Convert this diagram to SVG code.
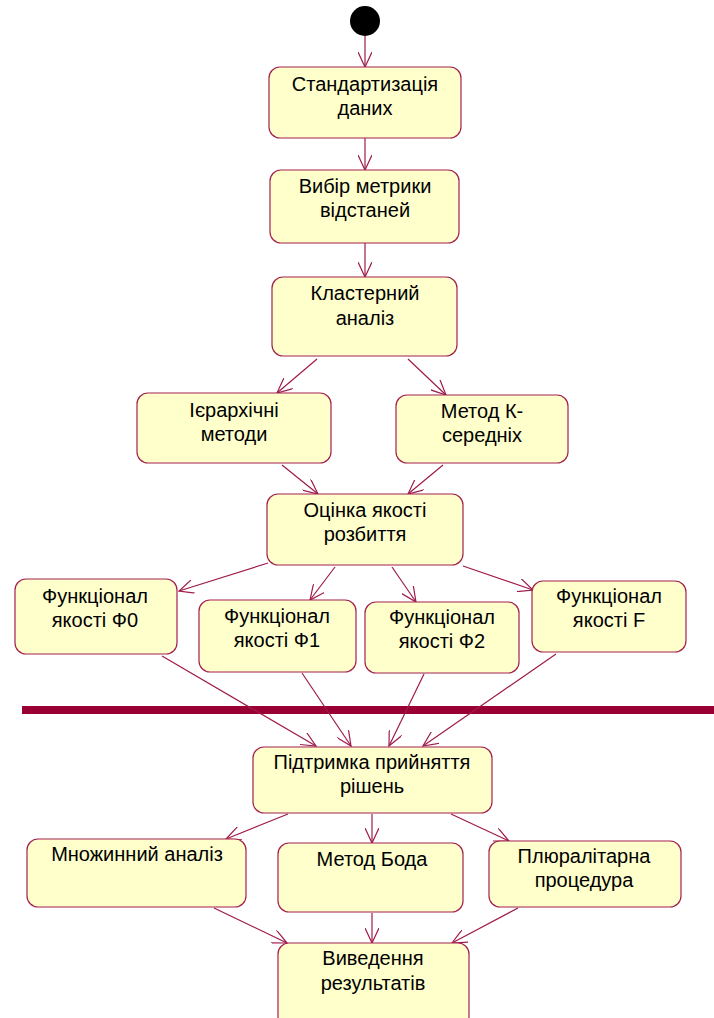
<svg xmlns="http://www.w3.org/2000/svg" width="714" height="1018" viewBox="0 0 714 1018">
<style>
.box{fill:#FFFFCC;stroke:#A3204F;stroke-width:1.2}
.t{font-family:"Liberation Sans",Arial,sans-serif;font-size:20px;fill:#000;text-anchor:middle}
.c{stroke:#9E1B4B;stroke-width:1.2;fill:none;marker-end:url(#ah)}
</style>
<defs>
<marker id="ah" markerUnits="userSpaceOnUse" viewBox="0 0 16 14" refX="15" refY="7" markerWidth="16" markerHeight="14" orient="auto">
<path d="M0,0 L15,7 L0,14" fill="none" stroke="#9E1B4B" stroke-width="1.2"/>
</marker>
</defs>
<rect width="714" height="1018" fill="#fff"/>
<g id="start"><circle cx="365" cy="21" r="15" fill="#000"/></g>
<g id="bar"><rect x="22" y="706" width="692" height="8" fill="#990033"/></g>
<g id="connectors">
<line class="c" x1="365" y1="36" x2="365" y2="67"/>
<line class="c" x1="365" y1="138" x2="365" y2="170"/>
<line class="c" x1="365" y1="243" x2="365" y2="277"/>
<line class="c" x1="317" y1="359" x2="277" y2="393"/>
<line class="c" x1="408" y1="359" x2="446" y2="395"/>
<line class="c" x1="282" y1="465" x2="318" y2="494"/>
<line class="c" x1="443" y1="465" x2="408" y2="494"/>
<line class="c" x1="268" y1="563" x2="179" y2="591"/>
<line class="c" x1="335" y1="567" x2="310" y2="600"/>
<line class="c" x1="392" y1="567" x2="416" y2="602"/>
<line class="c" x1="463" y1="566" x2="533" y2="590"/>
<line class="c" x1="162" y1="656" x2="316" y2="746"/>
<line class="c" x1="302" y1="673" x2="351" y2="746"/>
<line class="c" x1="424" y1="674" x2="389" y2="746"/>
<line class="c" x1="556" y1="654" x2="423" y2="746"/>
<line class="c" x1="288" y1="814" x2="226" y2="839"/>
<line class="c" x1="372" y1="814" x2="372" y2="843"/>
<line class="c" x1="451" y1="814" x2="509" y2="841"/>
<line class="c" x1="214" y1="908" x2="287" y2="943"/>
<line class="c" x1="372" y1="913" x2="372" y2="943"/>
<line class="c" x1="518" y1="908" x2="452" y2="943"/>
</g>
<g id="n1"><rect class="box" x="269" y="67" width="192" height="71" rx="11"/><text class="t" x="365" y="91">Стандартизація</text><text class="t" x="365" y="115">даних</text></g>
<g id="n2"><rect class="box" x="270" y="170" width="189" height="73" rx="11"/><text class="t" x="365" y="193">Вибір метрики</text><text class="t" x="365" y="217">відстаней</text></g>
<g id="n3"><rect class="box" x="272" y="277" width="185" height="79" rx="11"/><text class="t" x="365" y="300">Кластерний</text><text class="t" x="365" y="325">аналіз</text></g>
<g id="n4"><rect class="box" x="137" y="393" width="194" height="70" rx="11"/><text class="t" x="234" y="417">Ієрархічні</text><text class="t" x="234" y="441">методи</text></g>
<g id="n5"><rect class="box" x="396" y="395" width="172" height="68" rx="11"/><text class="t" x="482" y="418">Метод К-</text><text class="t" x="482" y="442">середніх</text></g>
<g id="n6"><rect class="box" x="267" y="494" width="196" height="71" rx="11"/><text class="t" x="365" y="517">Оцінка якості</text><text class="t" x="365" y="541">розбиття</text></g>
<g id="n7"><rect class="box" x="15" y="579" width="162" height="75" rx="11"/><text class="t" x="95" y="603">Функціонал</text><text class="t" x="95" y="627">якості Ф0</text></g>
<g id="n8"><rect class="box" x="199" y="600" width="157" height="72" rx="11"/><text class="t" x="277" y="623">Функціонал</text><text class="t" x="277" y="647">якості Ф1</text></g>
<g id="n9"><rect class="box" x="365" y="602" width="154" height="71" rx="11"/><text class="t" x="442" y="624">Функціонал</text><text class="t" x="442" y="648">якості Ф2</text></g>
<g id="n10"><rect class="box" x="532" y="581" width="154" height="71" rx="11"/><text class="t" x="609" y="603">Функціонал</text><text class="t" x="609" y="627">якості F</text></g>
<g id="n11"><rect class="box" x="253" y="747" width="239" height="66" rx="11"/><text class="t" x="372" y="769">Підтримка прийняття</text><text class="t" x="372" y="793">рішень</text></g>
<g id="n12"><rect class="box" x="27" y="839" width="219" height="68" rx="11"/><text class="t" x="137" y="861">Множинний аналіз</text></g>
<g id="n13"><rect class="box" x="278" y="843" width="185" height="69" rx="11"/><text class="t" x="372" y="866">Метод Бода</text></g>
<g id="n14"><rect class="box" x="489" y="841" width="192" height="66" rx="11"/><text class="t" x="584" y="863">Плюралітарна</text><text class="t" x="584" y="887">процедура</text></g>
<g id="n15"><rect class="box" x="278" y="943" width="191" height="85" rx="11"/><text class="t" x="373" y="965">Виведення</text><text class="t" x="373" y="990">результатів</text></g>
</svg>
